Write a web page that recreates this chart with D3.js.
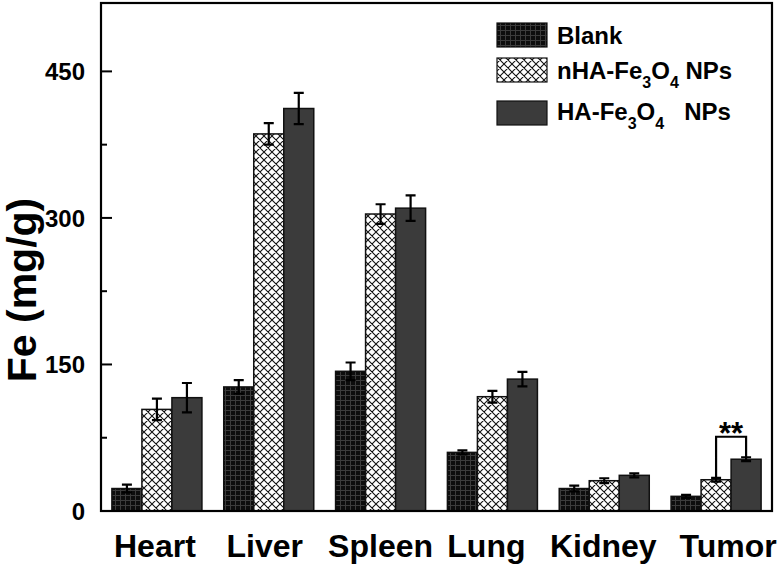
<!DOCTYPE html>
<html>
<head>
<meta charset="utf-8">
<script src="https://cdn.jsdelivr.net/npm/d3@7"></script>
<style>
  body { margin: 0; background: #fff; }
  text { font-family: "Liberation Sans", Arial, sans-serif; font-weight: bold; }
</style>
</head>
<body>
<div id="chart"></div>
<script>
var organs = ["Heart", "Liver", "Spleen", "Lung", "Kidney", "Tumor"];
var groups = ["Blank", "nHA", "HA"];
var blankVals = [23, 127, 143, 60, 23, 15];
var blankErr  = [4, 7, 9, 2, 3, 1.5];
var nhaVals   = [104, 386, 304, 117, 31, 32];
var nhaErr    = [11, 11, 10, 6, 2.5, 2];
var haVals    = [116, 412, 310, 135, 36.5, 53];
var haErr     = [15, 16, 13, 7.5, 2, 2];
var yTicks    = [0, 150, 300, 450];
var yMinor    = [75, 225, 375];
var bracketLevel = 76;

var width = 782, height = 566;
var margin = {top: 3, right: 10, bottom: 55, left: 101};
// small horizontal nudges of the category labels, as in the original figure
var labelNudge = {Heart: -2, Liver: -4, Spleen: 0, Lung: -6, Kidney: -1, Tumor: 12};

var svg = d3.select("#chart").append("svg")
  .attr("width", width).attr("height", height);

var defs = svg.append("defs");
// fine grid for Blank
var pg = defs.append("pattern").attr("id", "grid")
  .attr("patternUnits", "userSpaceOnUse").attr("width", 5).attr("height", 5);
pg.append("rect").attr("width", 5).attr("height", 5).attr("fill", "#0d0d0d");
pg.append("path").attr("d", "M0,0.5H5M0.5,0V5").attr("stroke", "#3c3c3c").attr("stroke-width", 1);
// crosshatch for nHA
var ph = defs.append("pattern").attr("id", "hatch")
  .attr("patternUnits", "userSpaceOnUse").attr("width", 8).attr("height", 8);
ph.append("rect").attr("width", 8).attr("height", 8).attr("fill", "#fff");
ph.append("path").attr("d", "M0,0L8,8M8,0L0,8M-1,7L1,9M7,-1L9,1M-1,1L1,-1M7,9L9,7")
  .attr("stroke", "#111").attr("stroke-width", 1.1);

var fills = {Blank: "url(#grid)", nHA: "url(#hatch)", HA: "#3b3b3b"};

var x0 = d3.scaleBand().domain(organs)
  .range([margin.left, width - margin.right])
  .paddingInner(0.195).paddingOuter(0.0975);
var x1 = d3.scaleBand().domain(groups).range([0, x0.bandwidth()]);
var y = d3.scaleLinear().domain([0, 520]).range([511, margin.top]);

var data = [];
organs.forEach(function(o, i) {
  data.push({organ: o, g: "Blank", v: blankVals[i], e: blankErr[i]});
  data.push({organ: o, g: "nHA", v: nhaVals[i], e: nhaErr[i]});
  data.push({organ: o, g: "HA", v: haVals[i], e: haErr[i]});
});

var bars = svg.append("g").selectAll("g").data(data).enter().append("g");
bars.append("rect")
  .attr("x", function(d) { return x0(d.organ) + x1(d.g); })
  .attr("y", function(d) { return y(d.v); })
  .attr("width", x1.bandwidth())
  .attr("height", function(d) { return y(0) - y(d.v); })
  .attr("fill", function(d) { return fills[d.g]; })
  .attr("stroke", "#111").attr("stroke-width", 1.5);

var cx = function(d) { return x0(d.organ) + x1(d.g) + x1.bandwidth() / 2; };
bars.append("path")
  .attr("d", function(d) {
    var c = cx(d), t = y(d.v + d.e), b = y(d.v - d.e);
    return "M" + c + "," + t + "V" + b + "M" + (c - 5) + "," + t + "H" + (c + 5) + "M" + (c - 5) + "," + b + "H" + (c + 5);
  })
  .attr("stroke", "#000").attr("stroke-width", 2.2).attr("fill", "none");

// significance bracket on Tumor
var tIdx = organs.indexOf("Tumor");
var bx1 = x0("Tumor") + x1("nHA") + x1.bandwidth() / 2;
var bx2 = x0("Tumor") + x1("HA") + x1.bandwidth() / 2;
var by = y(bracketLevel);
svg.append("path")
  .attr("d", "M" + bx1 + "," + y(nhaVals[tIdx] + nhaErr[tIdx]) + "V" + by + "H" + bx2 + "V" + y(haVals[tIdx] + haErr[tIdx]))
  .attr("stroke", "#000").attr("stroke-width", 2.2).attr("fill", "none");
svg.append("text").attr("x", (bx1 + bx2) / 2).attr("y", by + 7)
  .attr("text-anchor", "middle").attr("font-size", 31).text("**");

// frame
svg.append("rect").attr("x", margin.left).attr("y", margin.top)
  .attr("width", width - margin.right - margin.left).attr("height", 511 - margin.top)
  .attr("fill", "none").attr("stroke", "#000").attr("stroke-width", 2.2);

// y axis ticks (inward) and labels
var ya = svg.append("g");
ya.selectAll("line.maj").data(yTicks).enter().append("line")
  .attr("x1", margin.left).attr("x2", margin.left + 11)
  .attr("y1", function(d) { return y(d); }).attr("y2", function(d) { return y(d); })
  .attr("stroke", "#000").attr("stroke-width", 2);
ya.selectAll("line.min").data(yMinor).enter().append("line")
  .attr("x1", margin.left).attr("x2", margin.left + 6)
  .attr("y1", function(d) { return y(d); }).attr("y2", function(d) { return y(d); })
  .attr("stroke", "#000").attr("stroke-width", 2);
ya.selectAll("text").data(yTicks).enter().append("text")
  .attr("x", 85).attr("y", function(d) { return y(d); }).attr("dy", "0.36em")
  .attr("text-anchor", "end").attr("font-size", 24).text(function(d) { return d; });

svg.append("text")
  .attr("transform", "translate(36,290) rotate(-90)")
  .attr("text-anchor", "middle").attr("font-size", 41).text("Fe (mg/g)");

// x labels
svg.append("g").selectAll("text").data(organs).enter().append("text")
  .attr("x", function(d) { return x0(d) + x0.bandwidth() / 2 + labelNudge[d]; })
  .attr("y", 557).attr("text-anchor", "middle").attr("font-size", 32)
  .text(function(d) { return d; });

// legend
var leg = svg.append("g");
var legY = [23, 58, 101];
leg.selectAll("rect").data(groups).enter().append("rect")
  .attr("x", 497).attr("y", function(d, i) { return legY[i]; })
  .attr("width", 50).attr("height", 24)
  .attr("fill", function(d) { return fills[d]; })
  .attr("stroke", "#111").attr("stroke-width", 1.2);
leg.append("text").attr("x", 557).attr("y", 44).attr("font-size", 24).text("Blank");
function chem(t, pre, post) {
  t.append("tspan").text(pre + "Fe");
  t.append("tspan").attr("font-size", 16).attr("dy", 9).text("3");
  t.append("tspan").attr("dy", -9).text("O");
  t.append("tspan").attr("font-size", 16).attr("dy", 9).text("4");
  t.append("tspan").attr("dy", -9).text(post);
}
chem(leg.append("text").attr("x", 557).attr("y", 79).attr("font-size", 24), "nHA-", " NPs");
chem(leg.append("text").attr("x", 557).attr("y", 120).attr("font-size", 24).attr("xml:space", "preserve"), "HA-", "   NPs");
</script>
</body>
</html>
